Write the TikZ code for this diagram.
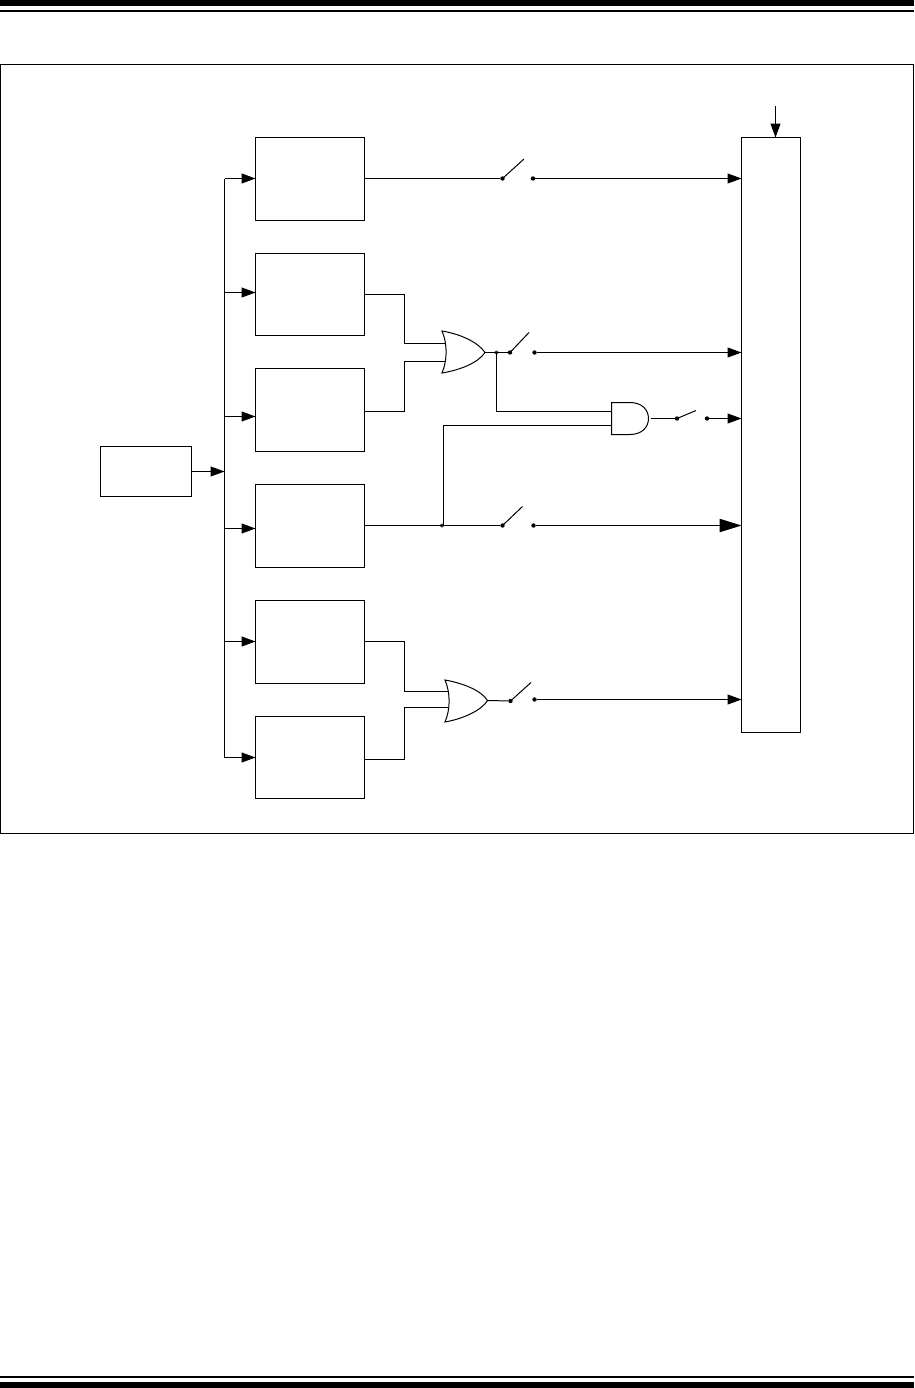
\documentclass[tikz,border=0pt]{standalone}
\usetikzlibrary{arrows.meta}
\tikzset{
  px/.style={x=0.75pt,y=-0.75pt},
  wire/.style={line width=0.75pt,line join=miter},
  blockbox/.style={draw,line width=0.75pt,inner sep=0pt,outer sep=0pt},
  gate/.style={draw,line width=0.75pt,fill=white,line join=miter},
  dot/.style={circle,fill=black,inner sep=0pt,minimum size=3.3pt,outer sep=0pt},
  jdot/.style={circle,fill=black!75,inner sep=0pt,minimum size=3pt,outer sep=0pt},
  arr/.style={wire,-{Triangle[length=10.5pt,width=7.5pt]}},
  bigarr/.style={wire,-{Triangle[length=16.5pt,width=10pt]}},
  bar/.style={fill=black,draw=none},
}
\begin{document}
\begin{tikzpicture}[px]
\useasboundingbox (0,0) rectangle (914,1388);
% page rules
\fill[bar] (0,0) rectangle (914,6);
\fill[bar] (0,10) rectangle (914,12);
\fill[bar] (0,1376) rectangle (914,1378);
\fill[bar] (0,1382) rectangle (914,1388);
% frame
\node[blockbox,minimum width=684.75pt,minimum height=576.75pt] (frame) at (457,449) {};
% blocks
\node[blockbox,minimum width=68.25pt,minimum height=37.5pt] (src) at (146,471.5) {};
\node[blockbox,minimum width=81.75pt,minimum height=62.25pt] (b1) at (310,179) {};
\node[blockbox,minimum width=81.75pt,minimum height=61.5pt] (b2) at (310,294.5) {};
\node[blockbox,minimum width=81.75pt,minimum height=62.25pt] (b3) at (310,410) {};
\node[blockbox,minimum width=81.75pt,minimum height=62.25pt] (b4) at (310,526) {};
\node[blockbox,minimum width=81.75pt,minimum height=62.25pt] (b5) at (310,642) {};
\node[blockbox,minimum width=81.75pt,minimum height=61.5pt] (b6) at (310,757.5) {};
\node[blockbox,minimum width=44.25pt,minimum height=446.25pt] (cpu) at (771,435) {};
% bus
\coordinate (bus) at (224.5,471.5);
\coordinate (bustop) at (224.5,178.5);
\coordinate (busbot) at (224.5,757.5);
\draw[arr] (src.east) -- (bus);
\draw[wire] (bustop) -- (busbot);
\draw[arr] (bustop) -- (b1.west |- bustop);
\draw[arr] (224.5,292.5) -- (b2.west |- 0,292.5);
\draw[arr] (224.5,416.5) -- (b3.west |- 0,416.5);
\draw[arr] (224.5,528.5) -- (b4.west |- 0,528.5);
\draw[arr] (224.5,641.5) -- (b5.west |- 0,641.5);
\draw[arr] (busbot) -- (b6.west |- busbot);
% top arrow
\coordinate (topin) at (775.5,106);
\draw[arr] (topin) -- (topin |- cpu.north);
% switch nodes
\node[dot] (s1a) at (502.5,178.5) {};
\node[dot] (s1b) at (533,178.5) {};
\node[dot] (s2a) at (510,352.5) {};
\node[dot] (s2b) at (534.5,352.5) {};
\node[dot] (s3a) at (677,418.5) {};
\node[dot] (s3b) at (707,418.5) {};
\node[dot] (s4a) at (502.5,525.5) {};
\node[dot] (s4b) at (533.5,525.5) {};
\node[dot] (s5a) at (510.5,701) {};
\node[dot] (s5b) at (534.5,699.5) {};
\coordinate (bl1) at (524,159);
\coordinate (bl2) at (529,332.5);
\coordinate (bl3) at (696,410.5);
\coordinate (bl4) at (522.5,506.5);
\coordinate (bl5) at (531,682.5);
\foreach \a/\b in {s1a/bl1,s2a/bl2,s3a/bl3,s4a/bl4,s5a/bl5}{\draw[wire] (\a.center) -- (\b);}
% first channel
\draw[wire] (b1.east |- s1a) -- (s1a);
\draw[arr] (s1b) -- (s1b -| cpu.west);
% OR 1
\coordinate (o1a) at (446,343.5);
\coordinate (o1b) at (445,361.5);
\coordinate (o1y) at (485,352.5);
\draw[wire] (b2.east) -- (404.5,294.5) |- (o1a);
\draw[wire] (b3.east |- 0,411.5) -- (404.5,411.5) |- (o1b);
\draw[gate] (442,331) .. controls (460,334) and (478,342) .. (o1y)
  .. controls (478,363) and (460,370) .. (442,373)
  .. controls (447.5,360) and (447.5,344) .. cycle;
\node[jdot] (j1) at (496.5,352.5) {};
\draw[wire] (o1y) -- (s2a);
\draw[arr] (s2b) -- (s2b -| cpu.west);
% AND
\coordinate (a1) at (611.5,411.5);
\coordinate (a2) at (612.5,425.5);
\coordinate (ay) at (648.5,418.5);
\draw[wire] (j1.center) |- (a1);
\node[jdot] (j2) at (442,525.5) {};
\coordinate (j2up) at (443.5,525.5);
\draw[wire] (j2up) |- (a2);
\draw[gate] (611.5,402.5) -- (630,402.5) .. controls (642,402.5) and (648.5,410) .. (ay)
  .. controls (648.5,427) and (642,434.5) .. (630,434.5) -- (611.5,434.5) -- cycle;
\draw[wire] (651,418.5) -- (s3a);
\draw[arr] (s3b) -- (s3b -| cpu.west);
% fourth channel
\draw[wire] (b4.east |- j2) -- (s4a);
\draw[bigarr] (s4b) -- (s4b -| cpu.west);
% OR 2
\coordinate (o2a) at (448,691.5);
\coordinate (o2b) at (448,707.5);
\coordinate (o2y) at (487.5,700.5);
\draw[wire] (b5.east |- 0,641.5) -- (404.5,641.5) |- (o2a);
\draw[wire] (b6.east |- 0,759.5) -- (404.5,759.5) |- (o2b);
\draw[gate] (445,680) .. controls (462,683) and (481,690) .. (o2y)
  .. controls (481,711) and (462,719) .. (445,722)
  .. controls (450.5,709) and (450.5,693) .. cycle;
\draw[wire] (o2y) -- (s5a);
\draw[arr] (s5b) -- (s5b -| cpu.west);
\end{tikzpicture}
\end{document}
